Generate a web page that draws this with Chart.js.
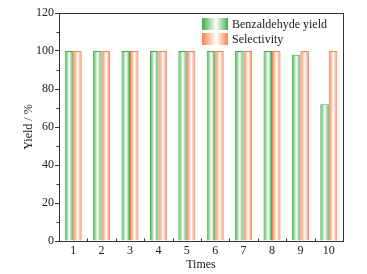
<!DOCTYPE html>
<html>
<head>
<meta charset="utf-8">
<script src="https://cdn.jsdelivr.net/npm/chart.js@4/dist/chart.umd.min.js"></script>
<style>
  html, body { margin: 0; padding: 0; background: #fff; }
  #wrap { width: 367px; height: 274px; }
</style>
</head>
<body>
<div id="wrap"><canvas id="chart" width="367" height="274"></canvas></div>
<script>
// данные с картинки
const times = ['1', '2', '3', '4', '5', '6', '7', '8', '9', '10'];
const benzaldehydeYield = [100, 100, 100, 100, 100, 100, 100, 100, 98, 72];
const selectivity = [100, 100, 100, 100, 100, 100, 100, 100, 100, 100];
const seriesNames = ['Benzaldehyde yield', 'Selectivity'];

const serif = 'Liberation Serif, Times New Roman, serif';
const green = '#43ad4d';
const orange = '#f5844f';
const CAT_PCT = 0.6;

// Градиент: цвет -> белый -> цвет (по горизонтали)
function makeGradient(ctx, x0, x1, color) {
  const g = ctx.createLinearGradient(x0, 0, x1, 0);
  g.addColorStop(0, color);
  g.addColorStop(0.55, '#ffffff');
  g.addColorStop(1, color);
  return g;
}

function barFill(color, side) {
  return function (context) {
    const chart = context.chart;
    if (!chart.chartArea || !chart.scales.x) return color;
    const xs = chart.scales.x;
    const c = xs.getPixelForValue(context.dataIndex);
    const w = (xs.width / times.length) * CAT_PCT / 2;
    const x0 = side === 0 ? c - w : c;
    return makeGradient(chart.ctx, x0, x0 + w, color);
  };
}

// Рамка, мелкие засечки и легенда внутри области графика
const framePlugin = {
  id: 'frame',
  afterDraw(chart) {
    const { ctx, chartArea: a, scales } = chart;
    ctx.save();
    ctx.strokeStyle = '#333';
    ctx.lineWidth = 1;
    ctx.strokeRect(Math.round(a.left) + 0.5, Math.round(a.top) + 0.5,
      Math.round(a.right - a.left), Math.round(a.bottom - a.top));

    // минорные засечки оси Y
    for (let v = 10; v < 120; v += 20) {
      const y = Math.round(scales.y.getPixelForValue(v)) + 0.5;
      ctx.beginPath();
      ctx.moveTo(a.left, y);
      ctx.lineTo(a.left - 2.5, y);
      ctx.stroke();
    }
    // засечки оси X между категориями
    const step = scales.x.width / times.length;
    for (let i = 1; i < times.length; i++) {
      const x = Math.round(a.left + step * i) + 0.5;
      ctx.beginPath();
      ctx.moveTo(x, a.bottom);
      ctx.lineTo(x, a.bottom - 2.5);
      ctx.stroke();
    }

    // легенда
    const colors = [green, orange];
    const bx = 202, bw = 26, bh = 12;
    ctx.font = '12px ' + serif;
    ctx.textBaseline = 'middle';
    seriesNames.forEach((name, i) => {
      const by = 18 + i * 15;
      ctx.fillStyle = makeGradient(ctx, bx, bx + bw, colors[i]);
      ctx.fillRect(bx, by, bw, bh);
      ctx.fillStyle = '#1a1a1a';
      ctx.fillText(name, bx + bw + 4, by + bh / 2 + 0.5);
    });
    ctx.restore();
  },
};

const ctx = document.getElementById('chart').getContext('2d');
new Chart(ctx, {
  type: 'bar',
  data: {
    labels: times,
    datasets: [
      {
        label: seriesNames[0],
        data: benzaldehydeYield,
        backgroundColor: barFill(green, 0),
        borderColor: green,
        borderWidth: 1,
        categoryPercentage: CAT_PCT,
        barPercentage: 1.0,
      },
      {
        label: seriesNames[1],
        data: selectivity,
        backgroundColor: barFill(orange, 1),
        borderColor: orange,
        borderWidth: 1,
        categoryPercentage: CAT_PCT,
        barPercentage: 1.0,
      },
    ],
  },
  options: {
    animation: false,
    responsive: false,
    devicePixelRatio: 1,
    layout: { padding: { top: 13, right: 24, left: 22, bottom: 0 } },
    plugins: {
      legend: { display: false },
      tooltip: { enabled: false },
    },
    scales: {
      x: {
        grid: { display: false, drawTicks: false },
        border: { display: false },
        ticks: { color: '#1a1a1a', font: { family: serif, size: 12 }, padding: 3 },
        title: {
          display: true,
          text: 'Times',
          color: '#1a1a1a',
          font: { family: serif, size: 12 },
          padding: { top: 0, bottom: 2 },
        },
        afterFit: (scale) => { scale.height = 33; },
      },
      y: {
        min: 0,
        max: 120,
        ticks: { stepSize: 20, color: '#1a1a1a', font: { family: serif, size: 12 }, padding: 1 },
        grid: { drawOnChartArea: false, tickLength: 4, color: '#333' },
        border: { display: false },
        title: {
          display: true,
          text: 'Yield / %',
          color: '#1a1a1a',
          font: { family: serif, size: 12 },
          padding: { top: 0, bottom: 0 },
        },
        afterFit: (scale) => { scale.width = 37; },
      },
    },
  },
  plugins: [framePlugin],
});
</script>
</body>
</html>
